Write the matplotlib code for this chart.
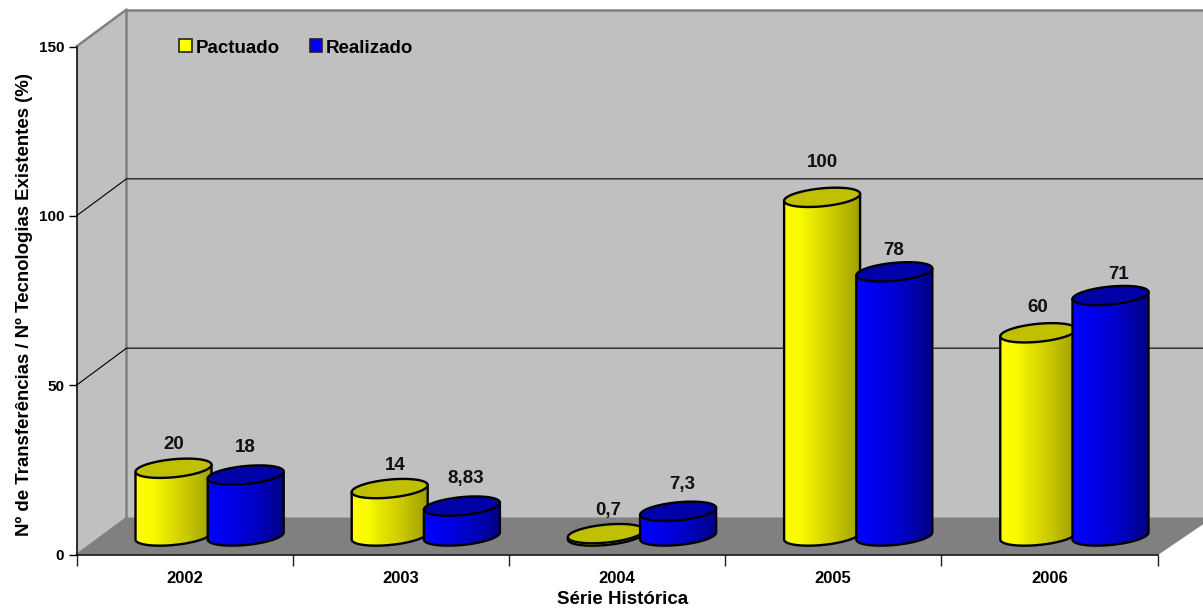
import numpy as np
import matplotlib
matplotlib.use('Agg')
import matplotlib.pyplot as plt
from matplotlib.patches import Polygon, Patch
from matplotlib.colors import LinearSegmentedColormap

plt.rcParams['font.family'] = ['Liberation Sans', 'DejaVu Sans']
plt.rcParams['font.weight'] = 'bold'

years = ['2002', '2003', '2004', '2005', '2006']
pactuado = [20, 14, 0.7, 100, 60]
realizado = [18, 8.83, 7.3, 78, 71]
pactuado_txt = ['20', '14', '0,7', '100', '60']
realizado_txt = ['18', '8,83', '7,3', '78', '71']
y_ticks = [0, 50, 100, 150]

W, H = 1203, 612
X0, X1 = 76.5, 1157.5      # plot box in pixels
Y0, Y1 = 554.5, 46.5
DEPTH_X, DEPTH_Y = 50, 37  # 3d depth in pixels
BAR_R = 38
TILT = 3.5
ELL_B = 9

fig = plt.figure(figsize=(W / 100, H / 100), dpi=100, facecolor='white')
ax = fig.add_axes([X0 / W, 1 - Y0 / H, (X1 - X0) / W, (Y0 - Y1) / H])
ax.set_xlim(0, len(years))
ax.set_ylim(0, 150)
ax.patch.set_visible(False)
ax.autoscale(False)

px_x = (X1 - X0) / len(years)
px_y = (Y0 - Y1) / 150


def dx(p):
    return p / px_x


def dy(p):
    return p / px_y


# walls
right = len(years) + dx(DEPTH_X) + 0.02
wall_top = 150 + dy(DEPTH_Y)
ax.add_patch(Polygon([(dx(DEPTH_X), dy(DEPTH_Y)), (right, dy(DEPTH_Y)), (right, wall_top), (dx(DEPTH_X), wall_top)],
                     fc='#c0c0c0', ec='none', clip_on=False, zorder=1))
ax.add_patch(Polygon([(0, 0), (dx(DEPTH_X), dy(DEPTH_Y)), (dx(DEPTH_X), wall_top), (0, 150)],
                     fc='#c0c0c0', ec='none', clip_on=False, zorder=1))
ax.add_patch(Polygon([(0, 0), (dx(DEPTH_X), dy(DEPTH_Y)), (right, dy(DEPTH_Y)), (len(years), 0)],
                     fc='#808080', ec='none', clip_on=False, zorder=1))
ax.plot([0, dx(DEPTH_X), dx(DEPTH_X)], [150, wall_top, dy(DEPTH_Y)], color='#808080', lw=1.8, clip_on=False, zorder=2)
ax.plot([dx(DEPTH_X), right], [wall_top, wall_top], color='#808080', lw=1.8, clip_on=False, zorder=2)
ax.plot([0, dx(DEPTH_X)], [0, dy(DEPTH_Y)], color='#808080', lw=1, clip_on=False, zorder=2)
ax.plot([len(years), right], [0, dy(DEPTH_Y)], color='#808080', lw=1, clip_on=False, zorder=2)
for v in y_ticks[1:-1]:
    ax.plot([0, dx(DEPTH_X), right], [v, v + dy(DEPTH_Y), v + dy(DEPTH_Y)], color='black', lw=0.8,
            clip_on=False, zorder=2)

yellow = LinearSegmentedColormap.from_list('y', ['#ffff00', '#fafa00', '#e4e400', '#d0d000', '#b8b800', '#a0a000'])
blue = LinearSegmentedColormap.from_list('b', ['#0000ff', '#0000f0', '#0000dc', '#0000c8', '#0000a8', '#000088'])


def ellipse_pts(cx, y, t):
    # left end sits lower than right end
    xs = cx + dx(BAR_R) * np.cos(t)
    ys = y + dy(TILT) * np.cos(t) + dy(ELL_B) * np.sin(t)
    return np.column_stack([xs, ys])


def cylinder(cx, val, cmap, top_color, z):
    base = dy(DEPTH_Y / 2)
    t_low = np.linspace(np.pi, 2 * np.pi, 50)
    t_full = np.linspace(0, 2 * np.pi, 100)
    low = ellipse_pts(cx, base, t_low)
    body_pts = np.vstack([[ellipse_pts(cx, base + val, np.array([np.pi]))[0]], low,
                          [ellipse_pts(cx, base + val, np.array([0.0]))[0]]])
    body = Polygon(body_pts, fc='none', ec='black', lw=1.7, clip_on=False, zorder=z + 0.2, joinstyle='round')
    ax.add_patch(body)
    clip = Polygon(body_pts, transform=ax.transData, fc='none', ec='none')
    strips = np.linspace(0, 1, 30)[None, :]
    img = ax.imshow(strips, cmap=cmap, extent=[cx - dx(BAR_R), cx + dx(BAR_R), min(low[:, 1]), base + val + dy(8)],
                    aspect='auto', interpolation='nearest', zorder=z, vmin=0, vmax=1)
    img.set_clip_path(clip)
    ax.add_patch(Polygon(ellipse_pts(cx, base + val, t_full), fc=top_color, ec='black', lw=1.7,
                         clip_on=False, zorder=z + 0.3))


half = dx(BAR_R) * 0.95
shift = dx(DEPTH_X / 2)
pact_dx = [0, 6, 2, 0, -1]
pact_dy = [24, 23, 23, 35, 25]
real_dx = [0, 4, 4, -1, 8]
real_dy = [28, 28, 27, 21, 21]
z = 3
for i in range(len(years)):
    c1 = i + 0.5 + shift - half
    c2 = i + 0.5 + shift + half
    cylinder(c1, pactuado[i], yellow, '#c0c000', z)
    z += 1
    cylinder(c2, realizado[i], blue, '#0000a8', z)
    z += 1
    base = dy(DEPTH_Y / 2)
    ax.text(c1 + dx(pact_dx[i]), pactuado[i] + base + dy(pact_dy[i]), pactuado_txt[i], ha='center', va='center',
            fontsize=13.5, zorder=30, color='#111111')
    ax.text(c2 + dx(real_dx[i]), realizado[i] + base + dy(real_dy[i]), realizado_txt[i], ha='center', va='center',
            fontsize=13.5, zorder=30, color='#111111')

# axes
for s in ['top', 'right']:
    ax.spines[s].set_visible(False)
for s in ['left', 'bottom']:
    ax.spines[s].set_linewidth(1.1)
    ax.spines[s].set_zorder(20)
ax.set_yticks(y_ticks)
ax.set_yticklabels([str(v) for v in y_ticks], fontsize=11)
ax.set_xticks(range(len(years) + 1))
ax.set_xticklabels([])
ax.set_xticks(np.arange(len(years)) + 0.5, minor=True)
ax.set_xticklabels(years, minor=True, fontsize=12)
ax.tick_params(axis='x', which='major', length=8, width=1, color='#222222')
ax.tick_params(axis='x', which='minor', length=0, pad=12)
ax.tick_params(axis='y', length=6, width=1, pad=3)

ax.set_xlabel('Série Histórica', fontsize=13.5, fontweight='bold')
ax.xaxis.set_label_coords((623 - X0) / (X1 - X0), -(600 - Y0) / (Y0 - Y1), transform=ax.transAxes)
ax.xaxis.label.set_va('center')
ax.set_ylabel('Nº de Transferências / Nº Tecnologias Existentes (%)', fontsize=13.4, fontweight='bold')
ax.yaxis.set_label_coords(-(X0 - 24) / (X1 - X0), (Y0 - 304) / (Y0 - Y1), transform=ax.transAxes)
ax.yaxis.label.set_va('center')

handles = [Patch(fc='#ffff00', ec='#222222', lw=1.2, label='Pactuado'),
           Patch(fc='#0000ff', ec='#222222', lw=1.2, label='Realizado')]
leg = ax.legend(handles=handles, ncol=2, frameon=False, fontsize=13.5, loc='center left',
                bbox_to_anchor=((179 - X0) / (X1 - X0), (Y0 - 48) / (Y0 - Y1)),
                handlelength=0.68, handleheight=0.68, handletextpad=0.2, columnspacing=1.6, borderpad=0, borderaxespad=0)
leg.set_zorder(40)

fig.savefig('out.png', dpi=100)
